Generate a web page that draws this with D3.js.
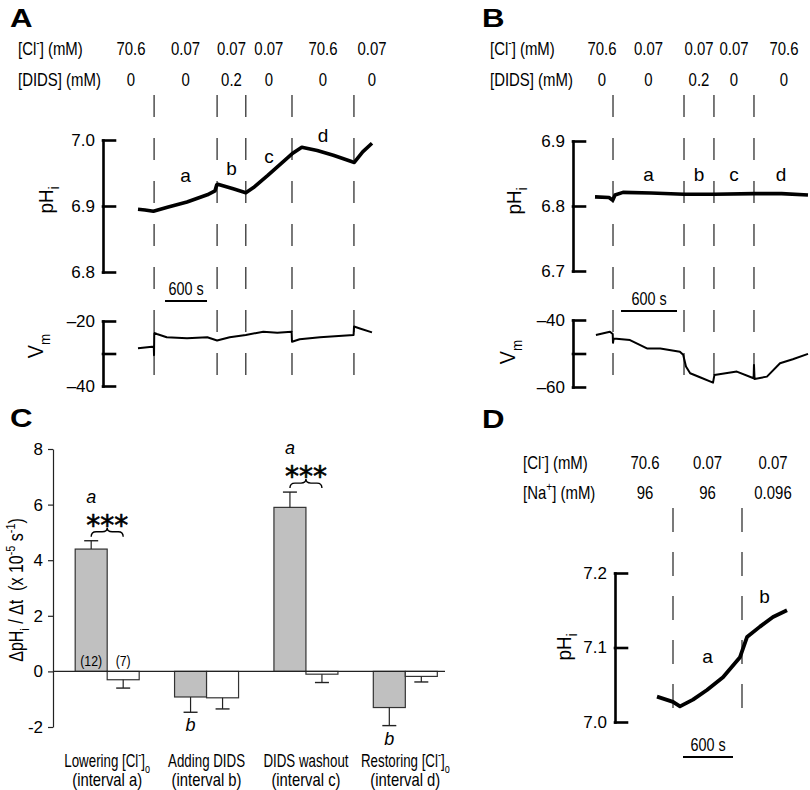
<!DOCTYPE html>
<html lang="en">
<head>
<meta charset="UTF-8">
<title>pHi traces and rates</title>
<script src="https://d3js.org/d3.v7.min.js"></script>
<style>
  body { margin: 0; background: #fff; }
  svg { font-family: "Liberation Sans", Arial, sans-serif; }
  text { white-space: pre; }
  .tick text { font-size: 17px; }
  .panel { font-weight: bold; font-size: 26px; }
  .trace { fill: none; stroke: #000; stroke-linejoin: round; }
  .cut { stroke: #333; stroke-width: 1.3; }
  .bracket path, .bracket line { stroke: #000; stroke-width: 2.6; stroke-linecap: square; }
  .thin path, .thin line { stroke: #222; stroke-width: 1.2; }
</style>
</head>
<body>
<svg width="810" height="790"></svg>
<script>
// ---- panel A ----
var clA = ["70.6", "0.07", "0.07", "0.07", "70.6", "0.07"];
var didsA = ["0", "0", "0.2", "0", "0", "0"];
var cutsA = [230, 1130, 1540, 2200, 3085];   // solution changes, s
var edgesA = [-430, 3600];                    // outer edges of first / last column
var endA = 3343;
var lettersA = ["a", "b", "c", "d"];
var letterPhA = [6.936, 6.947, 6.965, 6.997];
var phA = [[0, 6.895], [100, 6.894], [220, 6.892], [420, 6.898], [700, 6.906], [990, 6.917],
  [1100, 6.923], [1125, 6.932], [1140, 6.933], [1360, 6.926], [1540, 6.920], [1650, 6.928],
  [1850, 6.946], [2200, 6.979], [2340, 6.989], [2560, 6.984], [2790, 6.977], [3060, 6.967],
  [3090, 6.966], [3210, 6.982], [3343, 6.995]];
var vmA = [[0, -28.4], [200, -27.9], [226, -28.0], [229, -30.5], [232, -23.7], [270, -24],
  [410, -25], [700, -25.3], [990, -25], [1130, -26], [1310, -25], [1540, -24.3], [1790, -23.3],
  [1990, -23.6], [2195, -23.3], [2200, -26.4], [2310, -25.6], [2600, -25], [3080, -24.3],
  [3086, -21.7], [3170, -22.3], [3343, -23.5]];

// ---- panel B ----
var clB = ["70.6", "0.07", "0.07", "0.07", "70.6"];
var didsB = ["0", "0", "0.2", "0", "0"];
var cutsB = [193, 954, 1275, 1704];
var edgesB = [-43, 2346];
var endB = 2283;
var lettersB = ["a", "b", "c", "d"];
var letterPhB = [6.839, 6.839, 6.839, 6.839];
var phB = [[0, 6.814], [150, 6.813], [190, 6.809], [215, 6.817], [300, 6.821], [600, 6.820],
  [954, 6.818], [1275, 6.818], [1704, 6.819], [2000, 6.819], [2283, 6.817]];
var vmB = [[10, -44.5], [160, -43.5], [190, -44.2], [193, -46.8], [200, -45.5], [375, -46],
  [557, -48.5], [700, -48.5], [910, -49.5], [945, -50.4], [975, -53.9], [1020, -55.9],
  [1125, -57.1], [1265, -58.7], [1280, -56.4], [1520, -55.4], [1700, -57.4], [1704, -53.4],
  [1710, -57.6], [1843, -56.9], [1983, -52.9], [2120, -51.7], [2283, -50.1]];

// ---- panel D ----
var clD = ["70.6", "0.07", "0.07"];
var naD = ["96", "96", "0.096"];
var cutsD = [192, 1020];
var edgesD = [-480, 1764];
var endD = 1560;
var lettersD = ["a", "b"];
var letterPhD = [7.079, 7.160];
var phD = [[0, 7.034], [192, 7.027], [276, 7.021], [432, 7.030], [600, 7.043], [792, 7.060],
  [996, 7.087], [1080, 7.114], [1236, 7.128], [1392, 7.141], [1560, 7.150]];

// ---- panel C ----
var cats = ["Lowering [Cl^{-}]_{o}", "Adding DIDS", "DIDS washout", "Restoring [Cl^{-}]_{o}"];
var catSub = ["(interval a)", "(interval b)", "(interval c)", "(interval d)"];
var rateCtrl = [4.4, -0.92, 5.9, -1.3];
var errCtrl = [0.3, 0.55, 0.55, 0.65];
var rateTest = [-0.3, -0.95, -0.1, -0.18];
var errTest = [0.3, 0.4, 0.3, 0.2];
var nCtrl = "(12)", nTest = "(7)";
var sigTop = ["a", "", "a", ""];
var sigBottom = ["", "b", "", "b"];
var starPair = [true, false, true, false];
var rateTicks = [-2, 0, 2, 4, 6, 8];

var svg = d3.select("svg");
var FS = 18;

// condensed text: the figure uses a narrow face, so squeeze horizontally
function txt(x, y, fs, sx, anchor, rot) {
  return svg.append("text")
    .attr("transform", "translate(" + x + "," + y + ")" + (rot ? " rotate(-90)" : "") + " scale(" + sx + ",1)")
    .attr("text-anchor", anchor || "start").style("font-size", fs + "px");
}

// text with ^{sup} and _{sub} parts
function rich(sel, str, fs) {
  var parts = str.split(/(\^\{[^}]*\}|_\{[^}]*\})/).filter(function (s) { return s.length; });
  var cur = 0;
  parts.forEach(function (p) {
    var kind = p.slice(0, 2) === "^{" ? "sup" : (p.slice(0, 2) === "_{" ? "sub" : "");
    var t = kind ? p.slice(2, -1) : p;
    var target = kind === "sup" ? -0.42 * fs : (kind === "sub" ? 0.3 * fs : 0);
    var ts = sel.append("tspan").attr("dy", target - cur).text(t);
    if (kind) ts.style("font-size", (0.68 * fs) + "px");
    cur = target;
  });
  return sel;
}

function panelLetter(t, x, y) {
  svg.append("text").attr("class", "panel")
    .attr("transform", "translate(" + x + "," + y + ") scale(1.2,1)").text(t);
}

function tracePanel(p) {
  var x = d3.scaleLinear().domain([0, p.end]).range([p.x0, p.x1]);
  var cols = [p.edges[0]].concat(p.cuts, [p.edges[1]]);

  p.rows.forEach(function (r) {
    rich(txt(p.rowX, r.y, FS, 0.83), r.label, FS);
    r.vals.forEach(function (v, i) {
      txt(x((cols[i] + cols[i + 1]) / 2), r.y, FS, 0.83, "middle").text(v);
    });
  });

  svg.append("g").selectAll("line").data(p.cuts).join("line").attr("class", "cut")
    .attr("x1", function (d) { return x(d); }).attr("x2", function (d) { return x(d); })
    .attr("y1", p.cutY[0]).attr("y2", p.cutY[1])
    .attr("stroke-dasharray", p.dash);

  p.traces.forEach(function (tr) {
    var y = d3.scaleLinear().domain(tr.domain).range(tr.range);
    var ax = d3.axisLeft(y).tickValues(tr.ticks).tickSize(-12).tickSizeOuter(0)
      .tickPadding(8).tickFormat(tr.fmt);
    svg.append("g").attr("class", "bracket")
      .attr("transform", "translate(" + tr.axisX + ",0)").call(ax)
      .attr("font-size", null).attr("font-family", null);

    svg.append("path").datum(tr.data).attr("class", "trace")
      .attr("stroke-width", tr.width)
      .attr("d", d3.line().x(function (d) { return x(d[0]); }).y(function (d) { return y(d[1]); }));

    rich(txt(tr.namePos[0], tr.namePos[1], tr.nameSize, 0.9, "middle", true), tr.name, tr.nameSize);

    if (tr.letters) {
      var stops = p.cuts.concat([p.end]);
      svg.append("g").selectAll("text").data(tr.letters).join("text")
        .attr("text-anchor", "middle").style("font-size", "19px")
        .attr("x", function (d, i) { return x((stops[i] + stops[i + 1]) / 2); })
        .attr("y", function (d, i) { return y(tr.letterLevel[i]); })
        .text(function (d) { return d; });
    }
  });

  // 600 s scale bar
  svg.append("line").attr("x1", x(p.bar.t)).attr("x2", x(p.bar.t + 600))
    .attr("y1", p.bar.y).attr("y2", p.bar.y).attr("stroke", "#000").attr("stroke-width", 2);
  txt(x(p.bar.t + 300), p.bar.y - 6, FS, 0.8, "middle").text("600 s");
}

var phFmt = d3.format(".1f");
function vmFmt(mid) {
  return function (d) { return d === mid ? "" : "\u2013" + Math.abs(d); };
}

// A
panelLetter("A", 10, 27);
tracePanel({
  x0: 138, x1: 372, end: endA, cuts: cutsA, edges: edgesA, rowX: 18,
  rows: [{ label: "[Cl^{-}] (mM)", vals: clA, y: 55 }, { label: "[DIDS] (mM)", vals: didsA, y: 86 }],
  cutY: [95, 377], dash: "22,21",
  bar: { t: 386, y: 301 },
  traces: [
    { data: phA, domain: [6.8, 7.0], range: [272, 140], ticks: [6.8, 6.9, 7.0], fmt: phFmt,
      axisX: 103, width: 3.6, name: "pH_{i}", nameSize: 21, namePos: [53, 200],
      letters: lettersA, letterLevel: letterPhA },
    { data: vmA, domain: [-40, -20], range: [386, 321], ticks: [-40, -30, -20], fmt: vmFmt(-30),
      axisX: 103, width: 2, name: "V_{m}", nameSize: 22, namePos: [43, 346] }
  ]
});

// B
panelLetter("B", 482, 27);
tracePanel({
  x0: 595, x1: 808, end: endB, cuts: cutsB, edges: edgesB, rowX: 490,
  rows: [{ label: "[Cl^{-}] (mM)", vals: clB, y: 55 }, { label: "[DIDS] (mM)", vals: didsB, y: 86 }],
  cutY: [95, 377], dash: "22,21",
  bar: { t: 279, y: 311 },
  traces: [
    { data: phB, domain: [6.7, 6.9], range: [271, 141], ticks: [6.7, 6.8, 6.9], fmt: phFmt,
      axisX: 573, width: 3.6, name: "pH_{i}", nameSize: 21, namePos: [521, 201],
      letters: lettersB, letterLevel: letterPhB },
    { data: vmB, domain: [-60, -40], range: [387, 320], ticks: [-60, -50, -40], fmt: vmFmt(-50),
      axisX: 573, width: 2, name: "V_{m}", nameSize: 22, namePos: [515, 352] }
  ]
});

// D
panelLetter("D", 482, 428);
tracePanel({
  x0: 657, x1: 787, end: endD, cuts: cutsD, edges: edgesD, rowX: 523,
  rows: [{ label: "[Cl^{-}] (mM)", vals: clD, y: 469 }, { label: "[Na^{+}] (mM)", vals: naD, y: 499 }],
  cutY: [508, 708], dash: "24,20",
  bar: { t: 312, y: 757 },
  traces: [
    { data: phD, domain: [7.0, 7.2], range: [722, 573], ticks: [7.0, 7.1, 7.2], fmt: phFmt,
      axisX: 615, width: 3.8, name: "pH_{i}", nameSize: 21, namePos: [571, 647],
      letters: lettersD, letterLevel: letterPhD }
  ]
});

// C
panelLetter("C", 10, 427);
var yC = d3.scaleLinear().domain([-2, 8]).range([727, 449]);
var xC = d3.scaleBand().domain(cats).range([57.5, 455]);
var xS = d3.scaleBand().domain([0, 1]).range([-32, 32]);
var mid = function (c) { return xC(c) + xC.bandwidth() / 2; };

svg.append("g").attr("class", "thin").attr("transform", "translate(53,0)")
  .call(d3.axisLeft(yC).tickValues(rateTicks).tickSize(5).tickSizeOuter(0).tickPadding(5)
    .tickFormat(function (d) { return String(d); }))
  .attr("font-size", null).attr("font-family", null);

rich(txt(23, 590, 20, 0.8, "middle", true), "\u0394pH_{i} / \u0394t  (x 10^{-5} s^{-1})", 20);

var series = [
  { vals: rateCtrl, errs: errCtrl, fill: "#c0c0c0", k: 0 },
  { vals: rateTest, errs: errTest, fill: "#fff", k: 1 }
];
series.forEach(function (s) {
  var g = svg.append("g");
  g.selectAll("rect").data(cats).join("rect")
    .attr("x", function (c) { return mid(c) + xS(s.k); })
    .attr("width", xS.bandwidth())
    .attr("y", function (c, i) { return yC(Math.max(0, s.vals[i])); })
    .attr("height", function (c, i) { return Math.abs(yC(s.vals[i]) - yC(0)); })
    .attr("fill", s.fill).attr("stroke", "#333").attr("stroke-width", 1.2);
  var cx = function (c) { return mid(c) + xS(s.k) + xS.bandwidth() / 2; };
  var tip = function (i) { var v = s.vals[i]; return v >= 0 ? v + s.errs[i] : v - s.errs[i]; };
  g.selectAll("line.err").data(cats).join("line").attr("class", "err")
    .attr("x1", cx).attr("x2", cx)
    .attr("y1", function (c, i) { return yC(s.vals[i]); })
    .attr("y2", function (c, i) { return yC(tip(i)); })
    .attr("stroke", "#222").attr("stroke-width", 1.2);
  g.selectAll("line.cap").data(cats).join("line").attr("class", "cap")
    .attr("x1", function (c) { return cx(c) - 7; }).attr("x2", function (c) { return cx(c) + 7; })
    .attr("y1", function (c, i) { return yC(tip(i)); })
    .attr("y2", function (c, i) { return yC(tip(i)); })
    .attr("stroke", "#222").attr("stroke-width", 1.4);
});

svg.append("line").attr("x1", 53).attr("x2", 445).attr("y1", yC(0)).attr("y2", yC(0))
  .attr("stroke", "#222").attr("stroke-width", 1.2);

// n numbers
var gx = function (c, k) { return mid(c) + xS(k) + xS.bandwidth() / 2; };
txt(gx(cats[0], 0), yC(0) - 5, 15, 0.82, "middle").text(nCtrl);
txt(gx(cats[0], 1), yC(0) - 5, 15, 0.82, "middle").text(nTest);

// significance marks
function brace(xc, y, h) {
  return "M" + (xc - h) + "," + (y + 5) + "Q" + (xc - h) + "," + y + " " + (xc - h + 5) + "," + y +
    "L" + (xc - 5) + "," + y + "Q" + xc + "," + y + " " + xc + "," + (y - 4) +
    "Q" + xc + "," + y + " " + (xc + 5) + "," + y +
    "L" + (xc + h - 5) + "," + y + "Q" + (xc + h) + "," + y + " " + (xc + h) + "," + (y + 5);
}
cats.forEach(function (c, i) {
  var top = yC(rateCtrl[i] + errCtrl[i]);
  var bot = yC(rateCtrl[i] - errCtrl[i]);
  if (starPair[i]) {
    var by = top - 9;
    svg.append("path").attr("d", brace(mid(c), by, 16))
      .attr("fill", "none").attr("stroke", "#000").attr("stroke-width", 1.4);
    svg.append("text").attr("text-anchor", "middle")
      .style("font-family", "'DejaVu Sans', sans-serif").style("font-size", "28px")
      .attr("stroke", "#000").attr("stroke-width", 0.6)
      .attr("x", mid(c)).attr("y", by + 3).text("***");
  }
  if (sigTop[i]) {
    svg.append("text").attr("text-anchor", "middle").style("font-size", "18px").style("font-style", "italic")
      .attr("x", gx(c, 0)).attr("y", top - 38).text(sigTop[i]);
  }
  if (sigBottom[i]) {
    svg.append("text").attr("text-anchor", "middle").style("font-size", "18px").style("font-style", "italic")
      .attr("x", gx(c, 0)).attr("y", bot + 19).text(sigBottom[i]);
  }
});

// category labels
cats.forEach(function (c, i) {
  rich(txt(mid(c), 767, 18.5, 0.72, "middle"), c, 18.5);
  txt(mid(c), 786, 18.5, 0.8, "middle").text(catSub[i]);
});
</script>
</body>
</html>
